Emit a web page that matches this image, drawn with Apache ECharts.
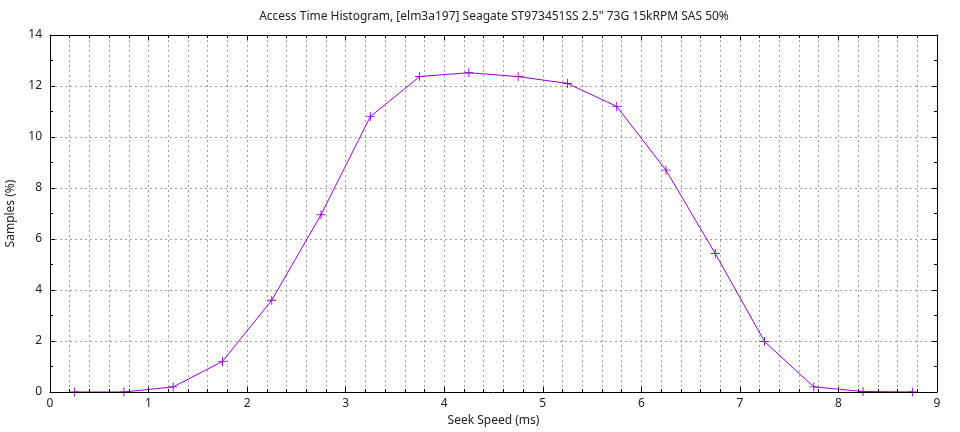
<!DOCTYPE html>
<html><head><meta charset="utf-8">
<script src="https://cdn.jsdelivr.net/npm/echarts@6/dist/echarts.min.js"></script>
<style>html,body{margin:0;padding:0;background:#fff}#c{width:960px;height:432px}</style>
</head><body><div id="c"></div>
<script>
const titleText = 'Access Time Histogram, [elm3a197] Seagate ST973451SS 2.5" 73G 15kRPM SAS 50%';
const xName = 'Seek Speed (ms)';
const yName = 'Samples (%)';
const seekMs = [0.25,0.75,1.25,1.75,2.25,2.75,3.25,3.75,4.25,4.75,5.25,5.75,6.25,6.75,7.25,7.75,8.25,8.75];
const samplesPct = [0,0,0.2,1.2,3.6,6.95,10.8,12.37,12.52,12.37,12.1,11.2,8.7,5.43,1.98,0.2,0.02,0];

const chart = echarts.init(document.getElementById('c'));
const font = '"Noto Sans", sans-serif';
const plus = 'path://M-0.1,-1H0.1V-0.1H1V0.1H0.1V1H-0.1V0.1H-1V-0.1H-0.1Z';
const grid = {left:50,right:23,top:35,bottom:40,containLabel:false,outerBoundsMode:'none'};
const axisLine = {show:true,onZero:false,lineStyle:{color:'#000',width:1}};
const dotted = {show:true,lineStyle:{color:'#a0a0a0',type:[2,3],width:1}};
const tick = {show:true,inside:true,length:5,lineStyle:{color:'#000'}};
chart.setOption({
  animation:false,
  graphic:[{type:'text',x:494,y:17,style:{text:titleText,fill:'#222',font:'12px '+font,textAlign:'center',textVerticalAlign:'middle'}}],
  grid:grid,
  xAxis:[
    {type:'value',min:0,max:9,interval:1,position:'bottom',name:xName,nameLocation:'middle',nameGap:23,z:10,
     nameTextStyle:{color:'#222',fontSize:12,fontFamily:font},
     axisLine:axisLine,axisTick:tick,
     minorTick:{show:true,splitNumber:5,length:3,lineStyle:{color:'#000'}},
     axisLabel:{color:'#222',fontSize:12,fontFamily:font,margin:6},
     splitLine:{show:false}},
    {type:'value',min:0,max:9,interval:1,position:'top',z:0,
     axisLine:axisLine,axisTick:tick,
     minorTick:{show:true,splitNumber:5,length:3,lineStyle:{color:'#000'}},
     axisLabel:{show:false},splitLine:dotted,minorSplitLine:dotted}
  ],
  yAxis:[
    {type:'value',min:0,max:14,interval:2,position:'left',name:yName,nameLocation:'middle',nameGap:33,z:10,
     nameTextStyle:{color:'#222',fontSize:12,fontFamily:font},
     axisLine:axisLine,axisTick:tick,
     minorTick:{show:true,splitNumber:2,length:3,lineStyle:{color:'#000'}},
     axisLabel:{color:'#222',fontSize:12,fontFamily:font,margin:8},
     splitLine:{show:false}},
    {type:'value',min:0,max:14,interval:2,position:'right',z:0,
     axisLine:axisLine,axisTick:tick,
     minorTick:{show:true,splitNumber:2,length:3,lineStyle:{color:'#000'}},
     axisLabel:{show:false},splitLine:dotted}
  ],
  series:[{
    type:'line',xAxisIndex:0,yAxisIndex:0,
    data:seekMs.map((x,i)=>[x,samplesPct[i]]),
    symbol:plus,symbolSize:9,showAllSymbol:true,
    lineStyle:{color:'#9400d3',width:1},
    itemStyle:{color:'#9400d3'},
    z:5
  }]
});
</script></body></html>
